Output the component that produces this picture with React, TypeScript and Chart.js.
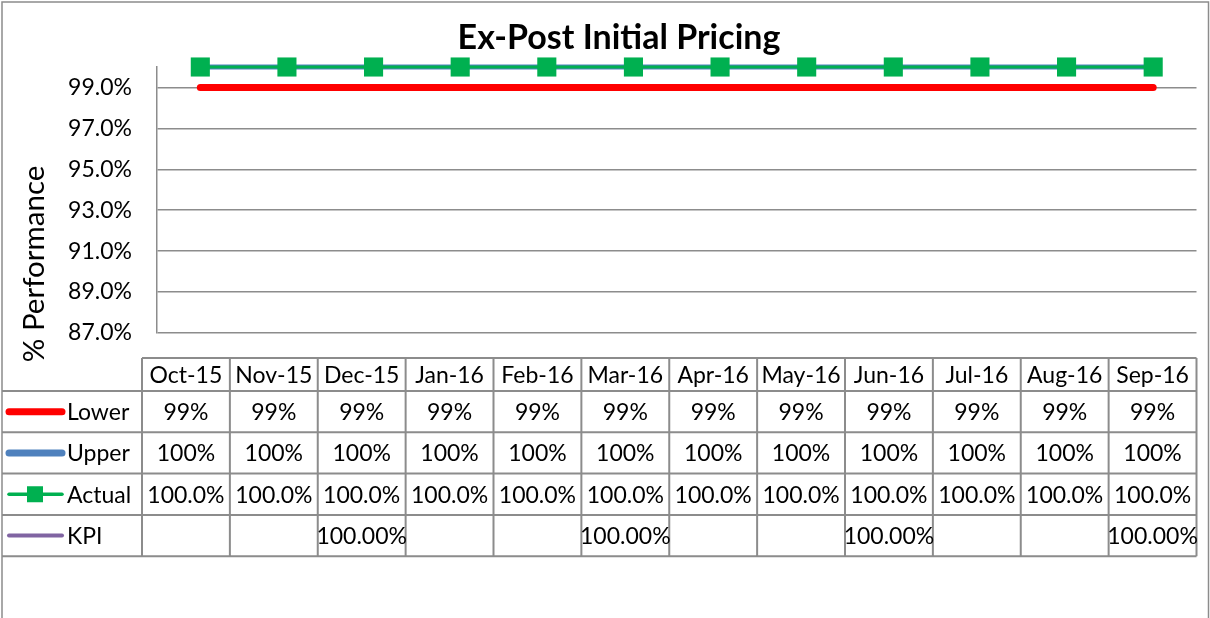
import React, { useEffect, useRef } from "react";
import { Chart, registerables } from "chart.js";

Chart.register(...registerables);

const categories = ["Oct-15", "Nov-15", "Dec-15", "Jan-16", "Feb-16", "Mar-16", "Apr-16", "May-16", "Jun-16", "Jul-16", "Aug-16", "Sep-16"];
const lowerValues = [99, 99, 99, 99, 99, 99, 99, 99, 99, 99, 99, 99];
const upperValues = [100, 100, 100, 100, 100, 100, 100, 100, 100, 100, 100, 100];
const actualValues = [100, 100, 100, 100, 100, 100, 100, 100, 100, 100, 100, 100];
const kpiValues: (number | null)[] = [null, null, 100, null, null, 100, null, null, 100, null, null, 100];
const yTickValues = [87, 89, 91, 93, 95, 97, 99];
const seriesNames = ["Lower", "Upper", "Actual", "KPI"];
const seriesColors = ["#FF0000", "#4F81BD", "#00B050", "#8064A2"];
const chartTitle = "Ex-Post Initial Pricing";
const yAxisTitle = "% Performance";

const FONT = "Lato";
const GRID = "#8c8c8c";

const fmt = (v: number | null, d: number) => (v == null ? "" : v.toFixed(d) + "%");
const tableRows: string[][] = [
  lowerValues.map((v) => fmt(v, 0)),
  upperValues.map((v) => fmt(v, 0)),
  actualValues.map((v) => fmt(v, 1)),
  kpiValues.map((v) => fmt(v, 2)),
];

const decorPlugin = {
  id: "decor",
  afterDraw(chart: any) {
    const ctx: CanvasRenderingContext2D = chart.ctx;
    const ca = chart.chartArea;
    ctx.save();

    // outer border
    ctx.strokeStyle = GRID;
    ctx.lineWidth = 1.5;
    ctx.strokeRect(2, 2, chart.width - 3.5, chart.height + 20);

    // title
    ctx.fillStyle = "#000";
    ctx.font = `bold 34px ${FONT}`;
    ctx.textAlign = "center";
    ctx.textBaseline = "alphabetic";
    ctx.fillText(chartTitle, 619, 49);

    // y axis title
    ctx.save();
    ctx.translate(44, 264);
    ctx.rotate(-Math.PI / 2);
    ctx.font = `29.5px ${FONT}`;
    ctx.textAlign = "center";
    ctx.textBaseline = "alphabetic";
    ctx.fillText(yAxisTitle, 0, 0);
    ctx.restore();

    // data table
    const left = ca.left - 15;
    const right = ca.right;
    const colW = (right - left) / categories.length;
    const headTop = ca.bottom + 25;
    const headBottom = headTop + 33;
    const rowH = 41.3;
    const tableBottom = headBottom + rowH * tableRows.length;

    ctx.strokeStyle = GRID;
    ctx.lineWidth = 2;
    ctx.beginPath();
    ctx.moveTo(left, headTop);
    ctx.lineTo(right, headTop);
    for (let r = 0; r <= tableRows.length; r++) {
      const y = headBottom + r * rowH;
      ctx.moveTo(2, y);
      ctx.lineTo(right, y);
    }
    for (let c = 0; c <= categories.length; c++) {
      const x = left + c * colW;
      ctx.moveTo(x, headTop);
      ctx.lineTo(x, tableBottom);
    }
    ctx.stroke();

    ctx.fillStyle = "#000";
    ctx.font = `23px ${FONT}`;
    ctx.textAlign = "center";
    ctx.textBaseline = "middle";
    categories.forEach((c, i) => {
      ctx.fillText(c, left + (i + 0.5) * colW, (headTop + headBottom) / 2 + 1);
    });
    tableRows.forEach((row, r) => {
      const cy = headBottom + (r + 0.5) * rowH + 1;
      row.forEach((t, i) => {
        if (t) ctx.fillText(t, left + (i + 0.5) * colW, cy);
      });
    });

    // legend keys and row labels
    ctx.textAlign = "left";
    seriesNames.forEach((name, r) => {
      const cy = headBottom + (r + 0.5) * rowH;
      ctx.strokeStyle = seriesColors[r];
      ctx.lineCap = "round";
      ctx.lineWidth = r < 2 ? 7 : r === 2 ? 3.5 : 4;
      ctx.beginPath();
      ctx.moveTo(9, cy);
      ctx.lineTo(62, cy);
      ctx.stroke();
      if (r === 2) {
        ctx.fillStyle = seriesColors[2];
        ctx.fillRect(27, cy - 8, 16, 16);
      }
      ctx.fillStyle = "#000";
      ctx.fillText(name, 67, cy + 1);
    });

    ctx.restore();
  },
};

export default function App() {
  const ref = useRef<HTMLCanvasElement>(null);

  useEffect(() => {
    document.body.style.margin = "0";
    const chart = new Chart(ref.current as HTMLCanvasElement, {
      type: "line",
      data: {
        labels: categories,
        datasets: [
          {
            label: seriesNames[0],
            data: lowerValues,
            borderColor: seriesColors[0],
            backgroundColor: seriesColors[0],
            borderWidth: 7,
            borderCapStyle: "round",
            pointRadius: 0,
            clip: false,
            order: 2,
          },
          {
            label: seriesNames[1],
            data: upperValues,
            borderColor: seriesColors[1],
            backgroundColor: seriesColors[1],
            borderWidth: 5,
            pointRadius: 0,
            clip: false,
            order: 1,
          },
          {
            label: seriesNames[2],
            data: actualValues,
            borderColor: seriesColors[2],
            backgroundColor: seriesColors[2],
            borderWidth: 3,
            pointStyle: "rect",
            pointRadius: 13.5,
            pointBorderWidth: 0,
            pointBackgroundColor: seriesColors[2],
            clip: false,
            order: 0,
          },
          {
            label: seriesNames[3],
            data: kpiValues,
            borderColor: seriesColors[3],
            backgroundColor: seriesColors[3],
            borderWidth: 4,
            pointRadius: 0,
            spanGaps: false,
            clip: false,
            order: 3,
          },
        ],
      },
      options: {
        animation: false,
        responsive: true,
        maintainAspectRatio: false,
        layout: { padding: { top: 67, bottom: 285, left: 0, right: 13 } },
        plugins: { legend: { display: false }, tooltip: { enabled: false }, title: { display: false } },
        scales: {
          x: { display: false, offset: true },
          y: {
            min: 87,
            max: 100,
            afterFit: (s: any) => {
              s.width = 157;
            },
            afterBuildTicks: (s: any) => {
              s.ticks = yTickValues.map((v) => ({ value: v }));
            },
            grid: { color: GRID, lineWidth: 1.5, drawTicks: false },
            border: { display: true, color: GRID, width: 1.5 },
            ticks: {
              padding: 25,
              color: "#000",
              font: { family: FONT, size: 23 },
              callback: (v: any) => Number(v).toFixed(1) + "%",
            },
          },
        },
      },
      plugins: [decorPlugin],
    });
    return () => chart.destroy();
  }, []);

  return (
    <div style={{ position: "fixed", left: 0, top: 0, width: 1210, height: 618, background: "#fff" }}>
      <canvas ref={ref} />
    </div>
  );
}
